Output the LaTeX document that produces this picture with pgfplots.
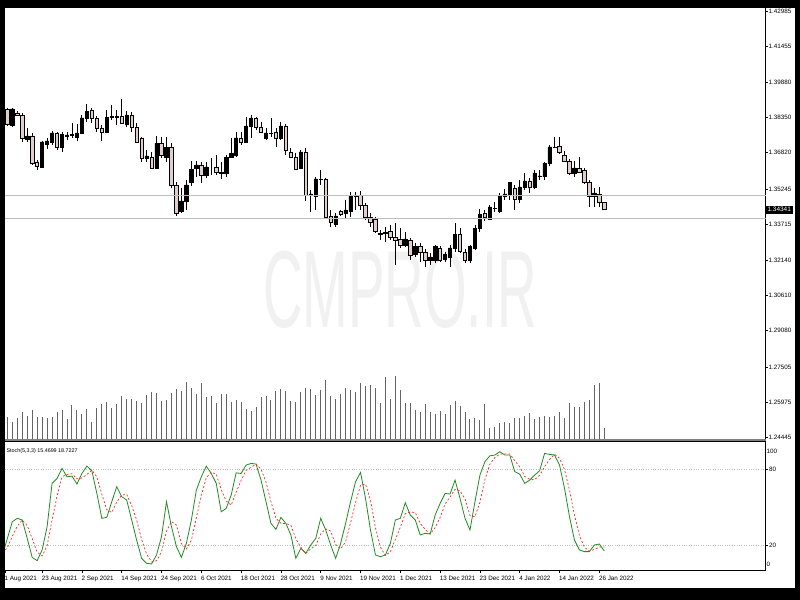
\documentclass[border=0pt]{standalone}
\usepackage{pgfplots}
\pgfplotsset{compat=1.18}
\usepackage{pgfplotstable}
\usepackage{fontspec}
\setmainfont{Liberation Sans}
\definecolor{bearfill}{RGB}{224,206,206}
\definecolor{volgray}{RGB}{100,100,100}
\definecolor{stochgreen}{RGB}{34,139,34}
\definecolor{stochred}{RGB}{250,40,40}
\definecolor{hline}{RGB}{190,190,190}
\definecolor{wmark}{RGB}{241,241,241}

\pgfplotstableread{
X O H L C
0 1.3872 1.3876 1.3798 1.3807
1 1.3802 1.3876 1.3794 1.3872
2 1.3855 1.3863 1.3842 1.3846
3 1.3846 1.3855 1.3729 1.3746
4 1.3742 1.3789 1.3729 1.3755
5 1.3755 1.3768 1.3629 1.3637
6 1.3642 1.3650 1.3607 1.3624
7 1.3620 1.3733 1.3616 1.3729
8 1.3720 1.3746 1.3698 1.3733
9 1.3729 1.3776 1.3716 1.3768
10 1.3768 1.3772 1.3694 1.3703
11 1.3703 1.3772 1.3685 1.3763
12 1.3755 1.3772 1.3737 1.3759
13 1.3759 1.3811 1.3746 1.3761
14 1.3750 1.3807 1.3733 1.3768
15 1.3768 1.3846 1.3763 1.3833
16 1.3833 1.3894 1.3815 1.3863
17 1.3868 1.3876 1.3811 1.3833
18 1.3833 1.3842 1.3772 1.3789
19 1.3789 1.3802 1.3733 1.3772
20 1.3772 1.3868 1.3772 1.3837
21 1.3837 1.3889 1.3824 1.3839
22 1.3839 1.3868 1.3802 1.3837
23 1.3842 1.3915 1.3807 1.3811
24 1.3807 1.3863 1.3794 1.3846
25 1.3846 1.3859 1.3772 1.3794
26 1.3794 1.3811 1.3724 1.3729
27 1.3746 1.3750 1.3642 1.3659
28 1.3659 1.3694 1.3642 1.3668
29 1.3663 1.3685 1.3611 1.3616
30 1.3616 1.3755 1.3616 1.3724
31 1.3724 1.3750 1.3659 1.3672
32 1.3663 1.3750 1.3642 1.3703
33 1.3707 1.3724 1.3529 1.3542
34 1.3542 1.3555 1.3407 1.3420
35 1.3425 1.3529 1.3420 1.3472
36 1.3472 1.3564 1.3433 1.3542
37 1.3551 1.3646 1.3538 1.3611
38 1.3616 1.3646 1.3577 1.3629
39 1.3629 1.3642 1.3551 1.3585
40 1.3585 1.3642 1.3572 1.3620
41 1.3620 1.3659 1.3585 1.3620
42 1.3620 1.3672 1.3585 1.3598
43 1.3598 1.3642 1.3568 1.3590
44 1.3590 1.3672 1.3577 1.3663
45 1.3663 1.3746 1.3659 1.3677
46 1.3672 1.3772 1.3663 1.3746
47 1.3746 1.3772 1.3716 1.3729
48 1.3729 1.3837 1.3724 1.3798
49 1.3798 1.3846 1.3746 1.3833
50 1.3833 1.3837 1.3781 1.3794
51 1.3794 1.3815 1.3768 1.3772
52 1.3746 1.3789 1.3737 1.3768
53 1.3768 1.3833 1.3750 1.3766
54 1.3772 1.3789 1.3707 1.3746
55 1.3746 1.3815 1.3737 1.3798
56 1.3798 1.3807 1.3672 1.3694
57 1.3685 1.3703 1.3659 1.3663
58 1.3663 1.3681 1.3607 1.3611
59 1.3616 1.3694 1.3611 1.3685
60 1.3685 1.3703 1.3472 1.3498
61 1.3498 1.3520 1.3425 1.3503
62 1.3490 1.3577 1.3433 1.3568
63 1.3568 1.3607 1.3542 1.3566
64 1.3564 1.3572 1.3399 1.3403
65 1.3407 1.3433 1.3359 1.3377
66 1.3372 1.3420 1.3359 1.3407
67 1.3425 1.3433 1.3407 1.3412
68 1.3420 1.3477 1.3399 1.3433
69 1.3429 1.3511 1.3403 1.3498
70 1.3494 1.3511 1.3433 1.3496
71 1.3498 1.3516 1.3433 1.3451
72 1.3455 1.3464 1.3390 1.3403
73 1.3403 1.3420 1.3359 1.3381
74 1.3394 1.3403 1.3333 1.3338
75 1.3331 1.3346 1.3303 1.3329
76 1.3333 1.3359 1.3294 1.3336
77 1.3342 1.3368 1.3303 1.3316
78 1.3316 1.3377 1.3194 1.3303
79 1.3307 1.3355 1.3268 1.3281
80 1.3277 1.3338 1.3273 1.3307
81 1.3303 1.3312 1.3216 1.3234
82 1.3242 1.3290 1.3229 1.3273
83 1.3273 1.3290 1.3207 1.3247
84 1.3247 1.3264 1.3185 1.3212
85 1.3212 1.3247 1.3194 1.3229
86 1.3216 1.3281 1.3203 1.3273
87 1.3268 1.3277 1.3207 1.3216
88 1.3220 1.3251 1.3207 1.3238
89 1.3229 1.3281 1.3185 1.3268
90 1.3264 1.3377 1.3251 1.3325
91 1.3325 1.3355 1.3247 1.3251
92 1.3247 1.3264 1.3203 1.3212
93 1.3212 1.3281 1.3203 1.3273
94 1.3268 1.3368 1.3260 1.3351
95 1.3355 1.3438 1.3338 1.3412
96 1.3420 1.3433 1.3386 1.3403
97 1.3394 1.3455 1.3390 1.3446
98 1.3438 1.3468 1.3425 1.3440
99 1.3429 1.3507 1.3420 1.3498
100 1.3494 1.3525 1.3477 1.3503
101 1.3498 1.3555 1.3477 1.3551
102 1.3529 1.3542 1.3433 1.3477
103 1.3477 1.3564 1.3464 1.3533
104 1.3533 1.3594 1.3520 1.3559
105 1.3559 1.3572 1.3507 1.3533
106 1.3533 1.3607 1.3525 1.3594
107 1.3580 1.3607 1.3564 1.3581
108 1.3577 1.3642 1.3564 1.3637
109 1.3637 1.3716 1.3624 1.3707
110 1.3707 1.3750 1.3703 1.3705
111 1.3711 1.3750 1.3677 1.3685
112 1.3672 1.3690 1.3642 1.3646
113 1.3646 1.3655 1.3585 1.3594
114 1.3594 1.3646 1.3577 1.3616
115 1.3616 1.3663 1.3594 1.3598
116 1.3603 1.3616 1.3546 1.3551
117 1.3551 1.3564 1.3446 1.3494
118 1.3494 1.3529 1.3446 1.3507
119 1.3503 1.3533 1.3446 1.3464
120 1.3464 1.3468 1.3433 1.3434
}\candles

\pgfplotstableread{
X V
0 22.3
1 16.7
2 21.3
3 26.7
4 23.3
5 28.7
6 22.3
7 22.3
8 21.3
9 22.3
10 26.7
11 28.7
12 20
13 34
14 28.7
15 24.7
16 29.7
17 16.7
18 30.7
19 35.3
20 37.3
21 30.7
22 35
23 43
24 39.7
25 40.3
26 38
27 36
28 43.7
29 46.7
30 45.7
31 38.3
32 39.3
33 45.7
34 50
35 48
36 57.3
37 51.3
38 45
39 56.3
40 41.7
41 42.7
42 36.3
43 44.7
44 44.7
45 37.3
46 39.3
47 37
48 29.7
49 28.3
50 31.7
51 41.7
52 42.7
53 39.3
54 48
55 50
56 48
57 38
58 37.3
59 46.7
60 51
61 50
62 44
63 49
64 59
65 42.7
66 40.3
67 44.7
68 51
69 49
70 46.7
71 55.7
72 53
73 54.3
74 51.3
75 35.7
76 62.3
77 39.7
78 63
79 49
80 36.3
81 36.3
82 28.7
83 26.7
84 35
85 26.7
86 24.7
87 27.7
88 24.7
89 34
90 38.3
91 33
92 26.7
93 20
94 21
95 19
96 35
97 11.3
98 12.3
99 15.7
100 16.7
101 15.7
102 21
103 21
104 23
105 25.7
106 19.7
107 22.3
108 23.3
109 22.3
110 23.3
111 26.7
112 21
113 36.3
114 32
115 32
116 37.3
117 39.3
118 54
119 55.7
120 10.7
}\volumes

\pgfplotstableread{
X K D
-1 12.0 14.0
0 25.2 18.0
1 38.5 27.0
2 41.2 35.0
3 39.9 39.9
4 25.5 35.5
5 10.5 25.3
6 7.9 14.6
7 16.3 11.6
8 34.6 19.6
9 68.7 39.9
10 72.6 58.6
11 80.5 73.9
12 73.9 75.7
13 74.4 76.3
14 68.2 72.2
15 76.5 73.0
16 82.3 75.7
17 78.6 79.1
18 60.8 73.9
19 41.2 60.2
20 42.0 48.0
21 54.3 45.8
22 66.1 54.1
23 58.2 59.5
24 55.6 60.0
25 39.9 51.2
26 24.1 39.9
27 9.7 24.6
28 5.8 13.2
29 5.3 6.9
30 12.4 7.8
31 26.8 14.8
32 54.3 31.2
33 34.6 38.6
34 18.9 35.9
35 10.5 21.3
36 21.5 17.0
37 39.9 24.0
38 63.4 41.6
39 73.9 59.1
40 82.3 73.2
41 76.5 77.6
42 68.7 75.8
43 46.4 63.9
44 49.0 54.7
45 59.5 51.6
46 77.0 61.8
47 76.5 71.0
48 83.1 78.9
49 84.4 81.3
50 83.9 83.8
51 71.3 79.9
52 54.3 69.8
53 37.2 54.3
54 32.5 41.3
55 42.0 37.2
56 37.2 37.2
57 28.1 35.8
58 9.7 25.0
59 17.6 18.5
60 13.7 13.7
61 20.2 17.2
62 25.4 19.8
63 41.2 28.9
64 32.0 32.9
65 20.2 31.1
66 9.7 20.6
67 21.5 17.1
68 37.2 22.8
69 54.3 37.7
70 70.0 53.8
71 77.3 67.2
72 56.9 68.1
73 32.0 55.4
74 12.4 33.8
75 11.0 18.5
76 12.4 11.9
77 21.5 15.0
78 39.9 24.6
79 41.2 34.2
80 53.5 44.9
81 43.8 46.2
82 39.9 45.7
83 28.1 37.3
84 29.4 32.5
85 28.9 28.8
86 43.8 34.0
87 53.0 41.9
88 60.8 52.5
89 60.3 58.0
90 71.3 64.1
91 56.9 62.8
92 41.2 56.5
93 32.0 43.4
94 54.3 42.5
95 75.2 53.8
96 85.7 71.7
97 90.4 83.8
98 91.0 89.0
99 93.6 91.7
100 91.0 91.9
101 91.0 91.9
102 77.9 86.6
103 76.0 81.6
104 68.7 74.2
105 71.3 72.0
106 75.2 71.7
107 78.6 75.0
108 92.3 82.0
109 91.5 87.5
110 91.0 91.6
111 83.1 88.5
112 64.8 79.6
113 42.5 63.5
114 24.1 43.8
115 16.3 27.6
116 15.0 18.5
117 15.0 15.4
118 20.2 16.7
119 21.0 18.7
120 15.47 18.72
}\stoch

\pgfplotsset{
  pane/.style={scale only axis, width=760.7bp, xmin=-0.462, xmax=152.44},
  mainpane/.style={pane, height=431bp, at={(5bp,161bp)}, anchor=south west, ymin=1.24374, ymax=1.43109},
  tick label style={font=\fontsize{6.3}{7}\selectfont},
}

\begin{document}
\begin{tikzpicture}
\fill[black] (0,0) rectangle (800bp,600bp);
\fill[white] (5bp,12bp) rectangle (795bp,592bp);
\node[text=wmark, font=\fontsize{110}{110}\selectfont, xscale=0.5] at (400bp,310bp) {CMPRO.IR};

% volumes
\begin{axis}[pane, height=431bp, at={(5bp,161bp)}, anchor=south west, ymin=0, ymax=431, hide axis]
\addplot[ycomb, volgray, line width=1bp, mark=none] table[x=X,y=V]{\volumes};
\end{axis}

% wicks
\begin{axis}[mainpane, hide axis]
\addplot[draw=none, mark=none, error bars/.cd, y dir=plus, y explicit, error mark=none,
  error bar style={draw=black, line width=0.9bp, solid}]
  table[x=X, y=L, y error expr=\thisrow{H}-\thisrow{L}]{\candles};
\end{axis}

% bodies
\begin{axis}[mainpane, hide axis, ybar stacked, bar width=0.68]
\addplot[draw=none, fill=none] table[x=X, y expr={min(\thisrow{O},\thisrow{C})}]{\candles};
\addplot[draw=black, fill=black, line width=0.7bp] table[x=X, y expr={(\thisrow{C}>\thisrow{O})*(\thisrow{C}-\thisrow{O})}]{\candles};
\addplot[draw=black, fill=bearfill, line width=0.7bp] table[x=X, y expr={(\thisrow{O}>=\thisrow{C})*(\thisrow{O}-\thisrow{C})}]{\candles};
\end{axis}

% price scale and levels
\begin{axis}[mainpane, clip=false, axis x line=none, axis y line*=right,
  axis line style={-, black, line width=0.8bp},
  ytick={1.24445,1.25975,1.27505,1.29080,1.30610,1.32140,1.33715,1.35245,1.36820,1.38350,1.39880,1.41455,1.42985},
  yticklabels={1.24445,1.25975,1.27505,1.29080,1.30610,1.32140,1.33715,1.35245,1.36820,1.38350,1.39880,1.41455,1.42985},
  tick align=outside, major tick length=2bp, tick style={black, line width=0.6bp},
  yticklabel style={anchor=west, inner sep=0.8bp},
  extra y ticks={1.3497,1.3395}, extra y tick labels={{},{}},
  extra y tick style={grid=major, major grid style={hline, line width=0.8bp}, major tick length=0pt}]
\node[fill=black, text=white, anchor=west, inner sep=1.6bp, font=\fontsize{6.5}{7}\selectfont] at (axis cs:152.44,1.34341) {1.34341};
\end{axis}

% pane separator
\draw[gray, line width=2bp] (5bp,160bp) -- (765.7bp,160bp);

% stochastic
\begin{axis}[pane, height=129.2bp, at={(5bp,29.3bp)}, anchor=south west, ymin=0, ymax=101.65,
  clip mode=individual, axis x line*=bottom, axis y line*=right,
  axis line style={-, black, line width=0.8bp},
  xtick={-0.462,7,15,23,31,39,47,55,63,71,79,87,95,103,111,119},
  xticklabels={1 Aug 2021,23 Aug 2021,2 Sep 2021,14 Sep 2021,24 Sep 2021,6 Oct 2021,18 Oct 2021,28 Oct 2021,9 Nov 2021,19 Nov 2021,1 Dec 2021,13 Dec 2021,23 Dec 2021,4 Jan 2022,14 Jan 2022,26 Jan 2022},
  xticklabel style={anchor=north west, inner sep=0pt, yshift=-3bp, xshift=-0.5bp},
  ytick={20,80}, yticklabels={20,80},
  yticklabel style={anchor=west, inner sep=0.8bp},
  tick align=outside, major tick length=2.5bp, tick style={black, line width=0.6bp},
  ymajorgrids, major grid style={hline, dotted, line width=0.8bp}]
\addplot[stochgreen, line width=0.8bp, mark=none] table[x=X,y=K]{\stoch};
\addplot[stochred, line width=0.7bp, dash pattern=on 2bp off 2bp, mark=none] table[x=X,y=D]{\stoch};
\draw[black, line width=0.8bp] (rel axis cs:0,1) -- (rel axis cs:1,1);
\node[anchor=west, inner sep=0.8bp, font=\fontsize{6.3}{7}\selectfont] at (axis cs:152.44,94) {100};
\node[anchor=west, inner sep=0.8bp, font=\fontsize{6.3}{7}\selectfont] at (axis cs:152.44,5) {0};
\node[anchor=west, inner sep=0pt, font=\fontsize{5.4}{6}\selectfont] at (axis cs:-0.2,93.8) {Stoch(5,3,3) 15.4699 18.7227};
\end{axis}

\pgfresetboundingbox
\path[use as bounding box] (0,0) rectangle (800bp,600bp);
\end{tikzpicture}
\end{document}
